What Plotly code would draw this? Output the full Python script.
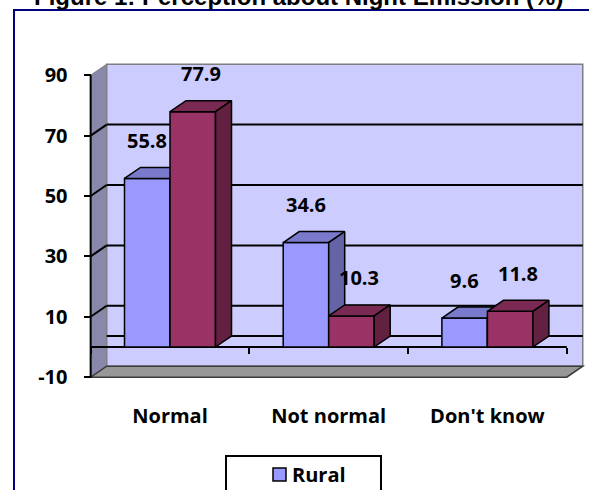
import plotly.graph_objects as go

# ---------------- data ----------------
categories = ["Normal", "Not normal", "Don't know"]
series_names = ["Rural", "Urban"]
rural = [55.8, 34.6, 9.6]
urban = [77.9, 10.3, 11.8]
y_ticks = [-10, 10, 30, 50, 70, 90]
y_tick_labels = ["-10", "10", "30", "50", "70", "90"]
title_text = "Figure 1: Perception about Night Emission (%)"

# ---------------- geometry / style ----------------
W_PX, H_PX = 589, 490
X0_PX, X_UNIT = 170.0, 158.7      # pixel of category 0, pixels per category
V0_PX, V_UNIT = 347.0, 3.02       # pixel of value 0, pixels per value unit
XMIN = -X0_PX / X_UNIT
XMAX = (W_PX - X0_PX) / X_UNIT
VMAX = V0_PX / V_UNIT
VMIN = (V0_PX - H_PX) / V_UNIT

DX = 16 / X_UNIT                  # 3D depth offset (data units)
DY = 11 / V_UNIT
BW = 45.5 / X_UNIT                # bar width
XL, XR = -0.5, len(categories) - 0.5
V_LO, V_HI = y_ticks[0], y_ticks[-1]

COLORS = {
    "Rural": dict(front="#9999FF", top="#7A7ACC", side="#6464A6"),
    "Urban": dict(front="#993366", top="#7A2952", side="#632142"),
}
FONT = dict(family="Open Sans", size=20, color="black", weight="bold")


def px2paper_x(px):
    return px / W_PX


def px2paper_y(py):
    return 1 - py / H_PX


def path(points):
    return "M " + " L ".join(f"{x},{y}" for x, y in points) + " Z"


def faces(lefts, vals):
    tx, ty, sx, sy = [], [], [], []
    for x0, v in zip(lefts, vals):
        x1 = x0 + BW
        tx += [x0, x1, x1 + DX, x0 + DX, x0, None]
        ty += [v, v, v + DY, v + DY, v, None]
        sx += [x1, x1 + DX, x1 + DX, x1, x1, None]
        sy += [0, DY, v + DY, v, 0, None]
    return tx, ty, sx, sy


fig = go.Figure()

xs = list(range(len(categories)))
for k, (name, vals) in enumerate(zip(series_names, [rural, urban])):
    xa = "x" if k == 0 else "x2"
    ya = "y" if k == 0 else "y2"
    offset = -BW if k == 0 else 0.0
    c = COLORS[name]
    fig.add_trace(go.Bar(
        x=xs, y=vals, name=name, offset=offset, width=BW,
        marker=dict(color=c["front"], line=dict(color="black", width=1.5)),
        xaxis=xa, yaxis=ya, hoverinfo="skip", showlegend=False,
    ))
    lefts = [x + offset for x in xs]
    tx, ty, sx, sy = faces(lefts, vals)
    fig.add_trace(go.Scatter(
        x=tx, y=ty, mode="lines", fill="toself", fillcolor=c["top"],
        line=dict(color="black", width=1.5), xaxis=xa, yaxis=ya,
        hoverinfo="skip", showlegend=False,
    ))
    fig.add_trace(go.Scatter(
        x=sx, y=sy, mode="lines", fill="toself", fillcolor=c["side"],
        line=dict(color="black", width=1.5), xaxis=xa, yaxis=ya,
        hoverinfo="skip", showlegend=False,
    ))

shapes = []
# back wall
shapes.append(dict(type="rect", xref="x", yref="y", layer="below",
                   x0=XL + DX, x1=XR + DX, y0=V_LO + DY, y1=V_HI + DY,
                   fillcolor="#CCCCFF", line=dict(color="#7F7F7F", width=1.5)))
# left wall
shapes.append(dict(type="path", xref="x", yref="y", layer="below",
                   path=path([(XL, V_LO), (XL, V_HI), (XL + DX, V_HI + DY), (XL + DX, V_LO + DY)]),
                   fillcolor="#8888AA", line=dict(color="#7F7F7F", width=1)))
# floor
shapes.append(dict(type="path", xref="x", yref="y", layer="below",
                   path=path([(XL, V_LO), (XR, V_LO), (XR + DX, V_LO + DY), (XL + DX, V_LO + DY)]),
                   fillcolor="#979797", line=dict(color="#3A3A3A", width=1.5)))
# gridlines: on back wall and diagonals on left wall
for v in y_ticks[1:-1]:
    shapes.append(dict(type="line", xref="x", yref="y", layer="below",
                       x0=XL + DX, x1=XR + DX, y0=v + DY, y1=v + DY,
                       line=dict(color="black", width=2)))
    shapes.append(dict(type="line", xref="x", yref="y", layer="below",
                       x0=XL, x1=XL + DX, y0=v, y1=v + DY,
                       line=dict(color="black", width=2)))
# zero level on back wall
shapes.append(dict(type="line", xref="x", yref="y", layer="below",
                   x0=XL + DX, x1=XR + DX, y0=DY, y1=DY,
                   line=dict(color="black", width=2)))
# value axis line (front edge of wall)
shapes.append(dict(type="line", xref="x", yref="y", layer="below",
                   x0=XL, x1=XL, y0=V_LO, y1=V_HI,
                   line=dict(color="black", width=2)))
# category axis line at 0
shapes.append(dict(type="line", xref="x", yref="y", layer="below",
                   x0=XL, x1=XR, y0=0, y1=0,
                   line=dict(color="black", width=2)))

# outer chart border (navy)
shapes.append(dict(type="rect", xref="paper", yref="paper",
                   x0=px2paper_x(14), x1=1.2, y0=-0.2, y1=px2paper_y(10),
                   line=dict(color="#000080", width=2), fillcolor="rgba(0,0,0,0)"))
# legend box + marker
shapes.append(dict(type="rect", xref="paper", yref="paper",
                   x0=px2paper_x(226), x1=px2paper_x(381), y0=px2paper_y(500), y1=px2paper_y(456),
                   line=dict(color="black", width=2), fillcolor="white"))
shapes.append(dict(type="rect", xref="paper", yref="paper",
                   x0=px2paper_x(273), x1=px2paper_x(286), y0=px2paper_y(481), y1=px2paper_y(468),
                   line=dict(color="black", width=1.5), fillcolor=COLORS["Rural"]["front"]))

annotations = []
# data labels
for k, vals in enumerate([rural, urban]):
    for i, v in enumerate(vals):
        xc = i - BW / 2 if k == 0 else i + BW / 2
        annotations.append(dict(
            x=xc, y=v, xref="x", yref="y", text=f"{v:.1f}", showarrow=False,
            xshift=0 if k == 0 else 8, yshift=38, font=FONT,
            xanchor="center", yanchor="middle"))
# title (partly above the top edge, as in the reference)
annotations.append(dict(
    x=px2paper_x(298), y=px2paper_y(-3), xref="paper", yref="paper",
    text=title_text, showarrow=False, xanchor="center", yanchor="middle",
    font=dict(family="Liberation Sans", size=24, color="black", weight="bold")))
# legend text
annotations.append(dict(
    x=px2paper_x(290), y=px2paper_y(474), xref="paper", yref="paper",
    text=series_names[0], showarrow=False, xanchor="left", yanchor="middle",
    font=FONT))

fig.update_layout(
    width=W_PX, height=H_PX, autosize=False,
    margin=dict(l=0, r=0, t=0, b=0, pad=0),
    paper_bgcolor="white", plot_bgcolor="rgba(0,0,0,0)",
    showlegend=False,
    shapes=shapes, annotations=annotations,
    xaxis=dict(range=[XMIN, XMAX], tickmode="array", tickvals=xs, ticktext=categories,
               ticks="", showgrid=False, zeroline=False, showline=False,
               anchor="free", position=px2paper_y(402), tickfont=FONT),
    xaxis2=dict(range=[XMIN, XMAX], overlaying="x", tickmode="array",
                tickvals=[x - 0.5 for x in xs] + [xs[-1] + 0.5],
                ticks="outside", ticklen=6, tickwidth=2, tickcolor="black",
                showticklabels=False, showgrid=False, zeroline=False, showline=False,
                anchor="free", position=px2paper_y(V0_PX), side="bottom"),
    yaxis=dict(range=[VMIN, VMAX], tickmode="array", tickvals=y_ticks,
               ticktext=y_tick_labels,
               ticks="outside", ticklen=7, tickwidth=2, tickcolor="black",
               showgrid=False, zeroline=False, showline=False,
               anchor="free", position=px2paper_x(90.5), ticklabelstandoff=12,
               tickfont=FONT),
    yaxis2=dict(range=[VMIN, VMAX], overlaying="y", visible=False),
)

fig.write_html("out.html")
